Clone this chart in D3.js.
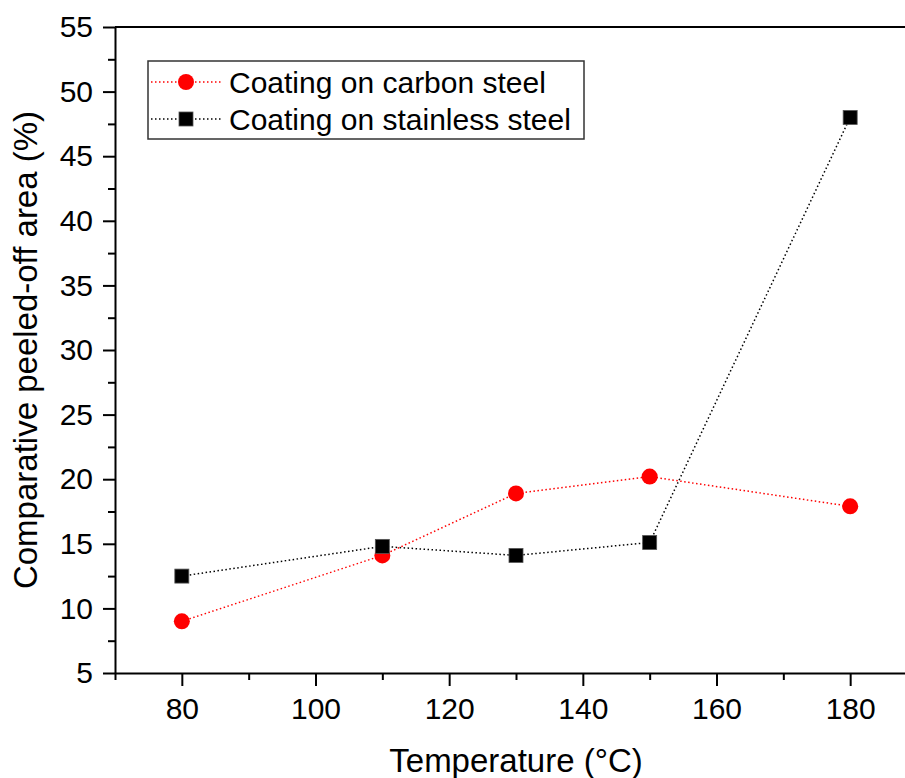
<!DOCTYPE html>
<html>
<head>
<meta charset="utf-8">
<script src="https://cdn.jsdelivr.net/npm/d3@7"></script>
<style>
  body { margin: 0; background: #fff; }
  svg { display: block; font-family: Arial, "Liberation Sans", sans-serif; }
  .axis path, .axis line { stroke: #000; stroke-width: 2; }
  .axis text { font-size: 30px; fill: #000; }
</style>
</head>
<body>
<svg id="chart" width="905" height="778"></svg>
<script>
// data
const temps = [80, 110, 130, 150, 180];
const carbon = [9.0, 14.1, 18.9, 20.2, 17.9];
const stainless = [12.5, 14.8, 14.1, 15.1, 48.0];
const xMajor = [80, 100, 120, 140, 160, 180];
const xMinor = [70, 90, 110, 130, 150, 170, 190];
const yMajor = [5, 10, 15, 20, 25, 30, 35, 40, 45, 50, 55];
const yMinor = [7.5, 12.5, 17.5, 22.5, 27.5, 32.5, 37.5, 42.5, 47.5, 52.5];

const svg = d3.select("#chart");
const plot = { left: 115, top: 27, right: 917, bottom: 673 };

const x = d3.scaleLinear().domain([70, 190]).range([plot.left, plot.right]);
const y = d3.scaleLinear().domain([5, 55]).range([plot.bottom, plot.top]);

// frame (top/right edges, right one falls outside the picture)
svg.append("path")
  .attr("d", `M${plot.left},${plot.top}H${plot.right}V${plot.bottom}`)
  .attr("fill", "none")
  .attr("stroke", "#000")
  .attr("stroke-width", 2);

// x axis
svg.append("g")
  .attr("class", "axis")
  .attr("transform", `translate(0,${plot.bottom})`)
  .call(d3.axisBottom(x).tickValues(xMinor).tickSize(7).tickFormat(""))
  .call(g => g.select(".domain").remove());

svg.append("g")
  .attr("class", "axis")
  .attr("transform", `translate(0,${plot.bottom})`)
  .call(d3.axisBottom(x).tickValues(xMajor).tickSize(13).tickSizeOuter(0).tickPadding(12))
  .call(g => g.selectAll("text").attr("dy", "0.71em"));

// y axis
svg.append("g")
  .attr("class", "axis")
  .attr("transform", `translate(${plot.left},0)`)
  .call(d3.axisLeft(y).tickValues(yMinor).tickSize(7).tickFormat(""))
  .call(g => g.select(".domain").remove());

svg.append("g")
  .attr("class", "axis")
  .attr("transform", `translate(${plot.left},0)`)
  .call(d3.axisLeft(y).tickValues(yMajor).tickSize(12).tickSizeOuter(0).tickPadding(10));

// axis titles
svg.append("text")
  .attr("x", (plot.left + plot.right) / 2)
  .attr("y", 772)
  .attr("text-anchor", "middle")
  .style("font-size", "33px")
  .text("Temperature (°C)");

svg.append("text")
  .attr("transform", `translate(37,${(plot.top + plot.bottom) / 2}) rotate(-90)`)
  .attr("text-anchor", "middle")
  .style("font-size", "33px")
  .text("Comparative peeled-off area (%)");

// lines
const line = d3.line().x(d => x(d[0])).y(d => y(d[1]));

const series = [
  { name: "Coating on carbon steel", values: carbon, color: "#ff0000", shape: "circle" },
  { name: "Coating on stainless steel", values: stainless, color: "#000000", shape: "square" }
];

series.forEach(s => {
  svg.append("path")
    .datum(temps.map((t, i) => [t, s.values[i]]))
    .attr("d", line)
    .attr("fill", "none")
    .attr("stroke", s.color)
    .attr("stroke-width", 1.5)
    .attr("stroke-dasharray", "1.5 2.5");
});

function drawMarker(g, shape, color, cx, cy) {
  if (shape === "circle") {
    g.append("circle")
      .attr("cx", cx).attr("cy", cy).attr("r", 8)
      .attr("fill", color);
  } else {
    g.append("rect")
      .attr("x", cx - 7).attr("y", cy - 7)
      .attr("width", 14).attr("height", 14)
      .attr("fill", color)
      .attr("stroke", "#555").attr("stroke-width", 0.8);
  }
}

series.forEach(s => {
  const g = svg.append("g");
  temps.forEach((t, i) => drawMarker(g, s.shape, s.color, x(t), y(s.values[i])));
});

// legend
const legend = svg.append("g");
legend.append("rect")
  .attr("x", 148).attr("y", 61)
  .attr("width", 436).attr("height", 78)
  .attr("fill", "#fff")
  .attr("stroke", "#333")
  .attr("stroke-width", 1.5);

const rowY = [82, 119];
series.forEach((s, i) => {
  legend.append("line")
    .attr("x1", 151).attr("x2", 221)
    .attr("y1", rowY[i]).attr("y2", rowY[i])
    .attr("stroke", s.color)
    .attr("stroke-width", 1.5)
    .attr("stroke-dasharray", "1.5 2.5");
  drawMarker(legend, s.shape, s.color, 186, rowY[i]);
  legend.append("text")
    .attr("x", 229)
    .attr("y", rowY[i])
    .attr("dy", "0.35em")
    .style("font-size", "30px")
    .text(s.name);
});
</script>
</body>
</html>
